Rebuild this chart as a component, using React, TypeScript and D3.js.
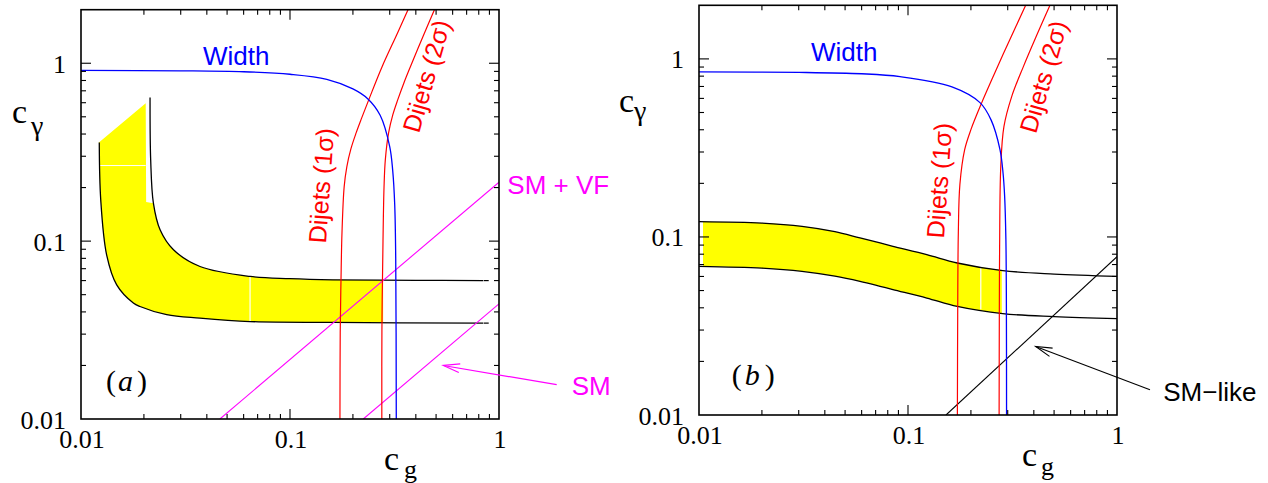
import React from "react";
import * as d3 from "d3";

// ---------------- axis ticks ----------------
const cgTickValues = [0.01, 0.1, 1];
const cgTickLabels = ["0.01", "0.1", "1"];
const cyTickValues = [0.01, 0.1, 1];
const cyTickLabels = ["0.01", "0.1", "1"];

// ---------------- panel (a) ----------------
const widthA_cg = [0.01, 0.03, 0.06, 0.1, 0.15, 0.2, 0.236, 0.27, 0.3, 0.31, 0.317, 0.3205, 0.3225];
const widthA_cy = [0.911, 0.907, 0.896, 0.867, 0.812, 0.717, 0.63, 0.51, 0.34, 0.25, 0.16, 0.08, 0.01];

const dijet1A_cg = [0.1734, 0.1739, 0.1754, 0.1773, 0.1816, 0.187, 0.1956, 0.2072, 0.2194, 0.2401, 0.2755, 0.327, 0.367];
const dijet1A_cy = [0.01, 0.0305, 0.0606, 0.111, 0.2019, 0.2616, 0.33, 0.406, 0.4866, 0.6385, 0.953, 1.48, 2.0];

const dijet2A_cg = [0.275, 0.2753, 0.2786, 0.2818, 0.2858, 0.2963, 0.3103, 0.3276, 0.3507, 0.3763, 0.44, 0.491];
const dijet2A_cy = [0.01, 0.0317, 0.1, 0.2019, 0.2862, 0.406, 0.5124, 0.622, 0.775, 0.953, 1.48, 2.0];

const bandUpA_cg = [0.0214, 0.02155, 0.0222, 0.0239, 0.0277, 0.0371, 0.0644, 0.1, 0.1606, 0.4, 0.84];
const bandUpA_cy = [0.641, 0.286, 0.1635, 0.1158, 0.0894, 0.072, 0.0633, 0.0615, 0.0606, 0.0602, 0.06];

const bandLowA_cg = [0.01223, 0.01243, 0.01327, 0.01482, 0.0178, 0.01915, 0.0257, 0.0371, 0.0644, 0.1606, 0.84];
const bandLowA_cy = [0.358, 0.1706, 0.0835, 0.0568, 0.0449, 0.0429, 0.0386, 0.0369, 0.0353, 0.0349, 0.0346];

// yellow allowed region (a): top-left cap and right end
const yellowCapA_cg = [0.0121, 0.0204, 0.0205];
const yellowCapA_cy = [0.356, 0.596, 0.166];
const yellowEndA_cg = 0.279;
const yellowEndA_up = 0.0604;
const yellowEndA_low = 0.0348;

const smvfA_cg = [0.0462, 1];
const smvfA_cy = [0.01, 0.2145];
const smA_cg = [0.2242, 1];
const smA_cy = [0.01, 0.0444];

// ---------------- panel (b) ----------------
const widthB_cg = [0.01, 0.03, 0.06, 0.0916, 0.1623, 0.221, 0.25, 0.2755, 0.285, 0.29, 0.294, 0.2955, 0.2962];
const widthB_cy = [0.845, 0.84, 0.825, 0.795, 0.696, 0.568, 0.453, 0.309, 0.228, 0.169, 0.0975, 0.048, 0.01];

const dijet1B_cg = [0.1723, 0.1729, 0.1741, 0.1771, 0.1867, 0.2, 0.2254, 0.2518, 0.2848, 0.3705];
const dijet1B_cy = [0.01, 0.0366, 0.1057, 0.1967, 0.3093, 0.4006, 0.568, 0.765, 1.057, 2.07];

const dijet2B_cg = [0.2729, 0.2735, 0.2744, 0.2779, 0.2877, 0.3134, 0.3565, 0.4143, 0.4839];
const dijet2B_cy = [0.01, 0.0366, 0.0882, 0.2483, 0.4167, 0.6141, 0.905, 1.369, 2.07];

const bandUpB_cg = [0.01, 0.02, 0.0311, 0.0447, 0.0589, 0.0735, 0.0847, 0.123, 0.172, 0.284, 0.5, 1];
const bandUpB_cy = [0.1219, 0.1196, 0.1147, 0.1071, 0.0987, 0.0925, 0.0886, 0.0796, 0.0714, 0.0647, 0.0619, 0.0601];

const bandLowB_cg = [0.01, 0.02, 0.0311, 0.0447, 0.0589, 0.0735, 0.0847, 0.123, 0.172, 0.284, 0.5, 1];
const bandLowB_cy = [0.0684, 0.0668, 0.0641, 0.0602, 0.0563, 0.0528, 0.0506, 0.0454, 0.0407, 0.0371, 0.0357, 0.0348];

const yellowStartB_cg = 0.01045;
const yellowEndB_cg = 0.281;

const smLikeB_cg = [0.152, 1];
const smLikeB_cy = [0.01, 0.0775];

// ---------------- annotation anchors (data units) ----------------
const annA = {
  width: [0.03835, 0.978],
  dijet1: [0.1487, 0.0966],
  dijet2: [0.4143, 0.4006],
  smvf: [1.096, 0.1844],
  sm: [2.228, 0.01369],
  arrowTail: [1.888, 0.01559],
  arrowHead: [0.5415, 0.01999],
  tag: [0.01317, 0.01429],
  whiteV: 0.0644,
  whiteH: 0.266,
};
const annB = {
  width: [0.03435, 0.978],
  dijet1: [0.1487, 0.0978],
  dijet2: [0.4097, 0.3756],
  smlike: [1.665, 0.01192],
  arrowTail: [1.438, 0.01387],
  arrowHead: [0.4083, 0.02428],
  tag: [0.01434, 0.0148],
  whiteV: 0.223,
};

type P = [number, number];
const zip = (a: number[], b: number[]): P[] => a.map((v, i) => [v, b[i]] as P);

const SANS = '"Liberation Sans", Arial, Helvetica, sans-serif';
const SERIF = '"Liberation Serif", "Times New Roman", serif';

const BLUE = "#0000ff";
const RED = "#ff0000";
const MAG = "#ff00ff";
const YEL = "#ffff00";

const serifStyle = (size: number, extra: any = {}) => ({ fontFamily: SERIF, fontSize: size + "px", ...extra });
const sansStyle = (size: number) => ({ fontFamily: SANS, fontSize: size + "px" });

type Box = { left: number; right: number; top: number; bottom: number };

function makeScales(box: Box) {
  const xs = d3.scaleLog().domain([0.01, 1]).range([box.left, box.right]);
  const ys = d3.scaleLog().domain([0.01, 2]).range([box.bottom, box.top]);
  return { xs, ys };
}

function Frame({ box, xs, ys }: any) {
  const isMajor = (t: number) => Math.abs(Math.log10(t) - Math.round(Math.log10(t))) < 1e-9;
  const xt = xs.ticks().filter((t: number) => t > 0.0100001 && t < 0.99999);
  const yt = ys.ticks().filter((t: number) => t > 0.0100001 && t < 1.99999);
  const els: any[] = [];
  xt.forEach((t: number, i: number) => {
    const x = xs(t);
    const len = isMajor(t) ? 10 : 5;
    els.push(<line key={"xb" + i} x1={x} x2={x} y1={box.bottom} y2={box.bottom - len} />);
    els.push(<line key={"xt" + i} x1={x} x2={x} y1={box.top} y2={box.top + len} />);
  });
  yt.forEach((t: number, i: number) => {
    const y = ys(t);
    const len = isMajor(t) ? 10 : 5;
    els.push(<line key={"yl" + i} x1={box.left} x2={box.left + len} y1={y} y2={y} />);
    els.push(<line key={"yr" + i} x1={box.right} x2={box.right - len} y1={y} y2={y} />);
  });
  return (
    <g>
      <g stroke="#000" strokeWidth={1.1}>{els}</g>
      <rect
        x={box.left}
        y={box.top}
        width={box.right - box.left}
        height={box.bottom - box.top}
        fill="none"
        stroke="#000"
        strokeWidth={1.6}
      />
      {cgTickValues.map((t, i) => (
        <text key={"xl" + i} x={xs(t) + 1} y={box.bottom + 29} textAnchor="middle" style={serifStyle(26)}>
          {cgTickLabels[i]}
        </text>
      ))}
      {cyTickValues.map((t, i) => (
        <text key={"yl" + i} x={box.left - 15} y={ys(t) + 9.5} textAnchor="end" style={serifStyle(26)}>
          {cyTickLabels[i]}
        </text>
      ))}
    </g>
  );
}

function Arrow({ head, tail, color, width }: { head: P; tail: P; color: string; width: number }) {
  const ang = Math.atan2(tail[1] - head[1], tail[0] - head[0]);
  const L = 17;
  const a = (15 * Math.PI) / 180;
  const p1: P = [head[0] + L * Math.cos(ang + a), head[1] + L * Math.sin(ang + a)];
  const p2: P = [head[0] + L * Math.cos(ang - a), head[1] + L * Math.sin(ang - a)];
  return (
    <g stroke={color} strokeWidth={width} fill="none">
      <line x1={tail[0]} y1={tail[1]} x2={head[0]} y2={head[1]} />
      <path d={`M${p1[0]},${p1[1]}L${head[0]},${head[1]}L${p2[0]},${p2[1]}`} />
    </g>
  );
}

function PanelA() {
  const box: Box = { left: 81, right: 499, top: 9.7, bottom: 419 };
  const { xs, ys } = makeScales(box);
  const line = d3.line<P>().x((d) => xs(d[0])).y((d) => ys(d[1])).curve(d3.curveCatmullRom.alpha(0.5));
  const lin = d3.line<P>().x((d) => xs(d[0])).y((d) => ys(d[1]));

  const up = zip(bandUpA_cg, bandUpA_cy);
  const low = zip(bandLowA_cg, bandLowA_cy);
  const cap = zip(yellowCapA_cg, yellowCapA_cy);
  const upPart: P[] = [...up.filter((d) => d[0] >= 0.0222 && d[0] < yellowEndA_cg), [yellowEndA_cg, yellowEndA_up]];
  const lowPart: P[] = [...low.filter((d) => d[0] < yellowEndA_cg), [yellowEndA_cg, yellowEndA_low]];
  const yellowD =
    (lin(cap) as string) +
    (line(upPart) as string).replace(/^M/, "L") +
    (line(lowPart.slice().reverse()) as string).replace(/^M/, "L") +
    "Z";

  const px = (d: number[]): P => [xs(d[0]), ys(d[1])];
  const w = px(annA.width);
  const d1 = px(annA.dijet1);
  const d2 = px(annA.dijet2);
  const sv = px(annA.smvf);
  const sm = px(annA.sm);
  const tag = px(annA.tag);

  return (
    <g>
      <defs>
        <clipPath id="clipA">
          <rect x={box.left} y={box.top} width={box.right - box.left} height={box.bottom - box.top} />
        </clipPath>
      </defs>
      <g clipPath="url(#clipA)">
        <path d={yellowD} fill={YEL} stroke="none" />
        <line x1={xs(annA.whiteV)} x2={xs(annA.whiteV)} y1={ys(0.0354)} y2={ys(0.0632)} stroke="#fff" strokeWidth={1.2} />
        <line
          x1={xs(yellowCapA_cg[0])}
          x2={xs(yellowCapA_cg[1])}
          y1={ys(annA.whiteH)}
          y2={ys(annA.whiteH)}
          stroke="#fff"
          strokeWidth={1}
        />
        <path d={line(up) as string} fill="none" stroke="#000" strokeWidth={1.3} />
        <path d={line(low) as string} fill="none" stroke="#000" strokeWidth={1.3} />
        <path d={lin([[0.845, 0.06], [0.93, 0.06]]) as string} fill="none" stroke="#000" strokeWidth={1.2} strokeDasharray="5,4,1.5,4" />
        <path d={lin([[0.845, 0.0346], [0.93, 0.0346]]) as string} fill="none" stroke="#000" strokeWidth={1.2} strokeDasharray="5,4,1.5,4" />
        <path d={lin(zip(smvfA_cg, smvfA_cy)) as string} fill="none" stroke={MAG} strokeWidth={1.1} />
        <path d={lin(zip(smA_cg, smA_cy)) as string} fill="none" stroke={MAG} strokeWidth={1.1} />
        <path d={line(zip(dijet1A_cg, dijet1A_cy)) as string} fill="none" stroke={RED} strokeWidth={1.2} />
        <path d={line(zip(dijet2A_cg, dijet2A_cy)) as string} fill="none" stroke={RED} strokeWidth={1.2} />
        <path d={line(zip(widthA_cg, widthA_cy)) as string} fill="none" stroke={BLUE} strokeWidth={1.3} />
      </g>
      <Frame box={box} xs={xs} ys={ys} />
      <Arrow head={px(annA.arrowHead)} tail={px(annA.arrowTail)} color={MAG} width={1.2} />
      <text x={w[0]} y={w[1]} style={sansStyle(26)} fill={BLUE}>Width</text>
      <text transform={`translate(${d1[0]},${d1[1]}) rotate(-86)`} style={sansStyle(25)} fill={RED}>
        Dijets (1σ)
      </text>
      <text transform={`translate(${d2[0]},${d2[1]}) rotate(-74)`} style={sansStyle(25)} fill={RED}>
        Dijets (2σ)
      </text>
      <text x={sv[0]} y={sv[1]} style={sansStyle(26)} fill={MAG}>SM + VF</text>
      <text x={sm[0]} y={sm[1]} style={sansStyle(26)} fill={MAG}>SM</text>
      <text x={tag[0]} y={tag[1]} style={serifStyle(30)}>
        <tspan>(</tspan>
        <tspan style={{ fontStyle: "italic" }} dx={2}>a</tspan>
        <tspan dx={4}>)</tspan>
      </text>
      {/* axis titles */}
      <text x={12} y={123} style={serifStyle(34)}>c</text>
      <text x={31} y={134.5} style={serifStyle(28)}>γ</text>
      <text x={384} y={469.5} style={serifStyle(34)}>c</text>
      <text x={404} y={478} style={serifStyle(26)}>g</text>
    </g>
  );
}

function PanelB() {
  const box: Box = { left: 699, right: 1117, top: 5.3, bottom: 415 };
  const { xs, ys } = makeScales(box);
  const line = d3.line<P>().x((d) => xs(d[0])).y((d) => ys(d[1])).curve(d3.curveCatmullRom.alpha(0.5));
  const lin = d3.line<P>().x((d) => xs(d[0])).y((d) => ys(d[1]));

  const up = zip(bandUpB_cg, bandUpB_cy);
  const low = zip(bandLowB_cg, bandLowB_cy);
  const yUp: P[] = [
    [yellowStartB_cg, 0.1218],
    ...up.filter((d) => d[0] > yellowStartB_cg && d[0] < yellowEndB_cg),
    [yellowEndB_cg, 0.065],
  ];
  const yLow: P[] = [
    [yellowStartB_cg, 0.0683],
    ...low.filter((d) => d[0] > yellowStartB_cg && d[0] < yellowEndB_cg),
    [yellowEndB_cg, 0.0372],
  ];
  const yellowD =
    (line(yUp) as string) + (line(yLow.slice().reverse()) as string).replace(/^M/, "L") + "Z";

  const px = (d: number[]): P => [xs(d[0]), ys(d[1])];
  const w = px(annB.width);
  const d1 = px(annB.dijet1);
  const d2 = px(annB.dijet2);
  const sl = px(annB.smlike);
  const tag = px(annB.tag);

  return (
    <g>
      <defs>
        <clipPath id="clipB">
          <rect x={box.left} y={box.top} width={box.right - box.left} height={box.bottom - box.top} />
        </clipPath>
      </defs>
      <g clipPath="url(#clipB)">
        <path d={yellowD} fill={YEL} stroke="none" />
        <line x1={xs(annB.whiteV)} x2={xs(annB.whiteV)} y1={ys(0.0392)} y2={ys(0.068)} stroke="#fff" strokeWidth={1.2} />
        <path d={line(up) as string} fill="none" stroke="#000" strokeWidth={1.3} />
        <path d={line(low) as string} fill="none" stroke="#000" strokeWidth={1.3} />
        <path d={lin(zip(smLikeB_cg, smLikeB_cy)) as string} fill="none" stroke="#000" strokeWidth={1.1} />
        <path d={line(zip(dijet1B_cg, dijet1B_cy)) as string} fill="none" stroke={RED} strokeWidth={1.2} />
        <path d={line(zip(dijet2B_cg, dijet2B_cy)) as string} fill="none" stroke={RED} strokeWidth={1.2} />
        <path d={line(zip(widthB_cg, widthB_cy)) as string} fill="none" stroke={BLUE} strokeWidth={1.3} />
      </g>
      <Frame box={box} xs={xs} ys={ys} />
      <Arrow head={px(annB.arrowHead)} tail={px(annB.arrowTail)} color="#000" width={1.1} />
      <text x={w[0]} y={w[1]} style={sansStyle(26)} fill={BLUE}>Width</text>
      <text transform={`translate(${d1[0]},${d1[1]}) rotate(-86)`} style={sansStyle(25)} fill={RED}>
        Dijets (1σ)
      </text>
      <text transform={`translate(${d2[0]},${d2[1]}) rotate(-74)`} style={sansStyle(25)} fill={RED}>
        Dijets (2σ)
      </text>
      <text x={sl[0]} y={sl[1]} style={sansStyle(26)} fill="#000">SM−like</text>
      <text x={tag[0]} y={tag[1]} style={serifStyle(30)}>
        <tspan>(</tspan>
        <tspan style={{ fontStyle: "italic" }} dx={3}>b</tspan>
        <tspan dx={5}>)</tspan>
      </text>
      {/* axis titles */}
      <text x={619} y={112} style={serifStyle(34)}>c</text>
      <text x={634} y={119.5} style={serifStyle(28)}>γ</text>
      <text x={1022} y={465.5} style={serifStyle(34)}>c</text>
      <text x={1041} y={475} style={serifStyle(26)}>g</text>
    </g>
  );
}

export default function App() {
  return (
    <svg
      width={1268}
      height={483}
      viewBox="0 0 1268 483"
      style={{ position: "absolute", left: 0, top: 0, background: "#fff" }}
    >
      <rect x={0} y={0} width={1268} height={483} fill="#fff" />
      <PanelA />
      <PanelB />
    </svg>
  );
}
